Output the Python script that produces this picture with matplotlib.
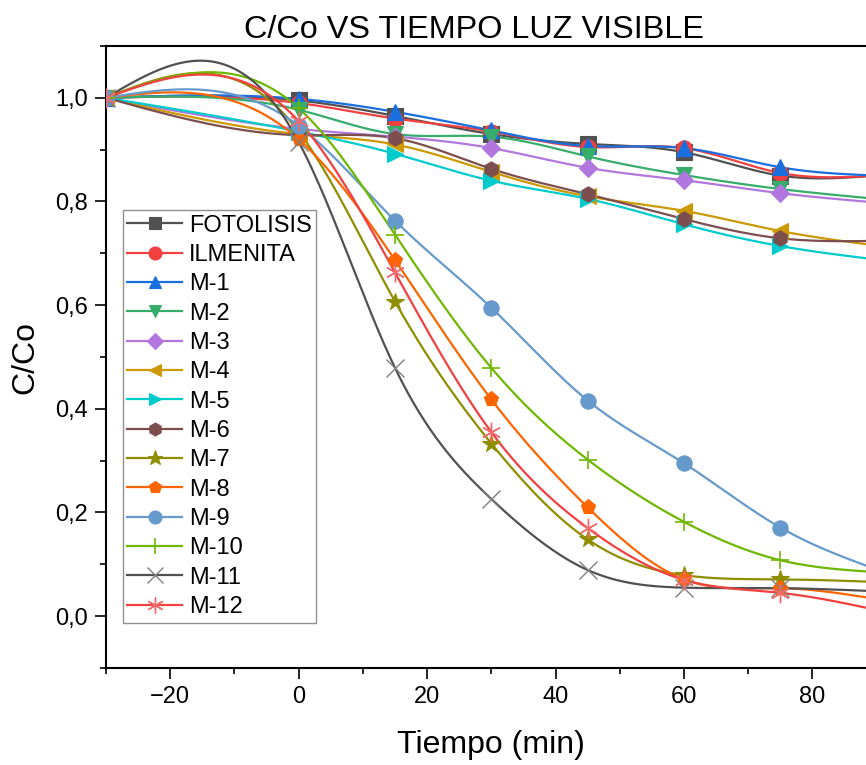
import numpy as np
import matplotlib
matplotlib.use("Agg")
import matplotlib.pyplot as plt
from matplotlib.ticker import MultipleLocator, FuncFormatter

plt.rcParams['font.family'] = ['Liberation Sans', 'DejaVu Sans']

# time points (min)
tiempo = [-30, 0, 15, 30, 45, 60, 75, 90]

# C/Co values
fotolisis = [1.0, 0.995, 0.965, 0.930, 0.911, 0.895, 0.850, 0.850]
ilmenita  = [1.0, 0.990, 0.960, 0.935, 0.905, 0.903, 0.855, 0.850]
m1  = [1.0, 0.998, 0.973, 0.937, 0.907, 0.903, 0.866, 0.850]
m2  = [1.0, 0.977, 0.930, 0.925, 0.887, 0.851, 0.824, 0.805]
m3  = [1.0, 0.940, 0.925, 0.903, 0.865, 0.841, 0.816, 0.798]
m4  = [1.0, 0.930, 0.910, 0.857, 0.810, 0.782, 0.743, 0.715]
m5  = [1.0, 0.935, 0.892, 0.840, 0.805, 0.756, 0.714, 0.688]
m6  = [1.0, 0.928, 0.922, 0.863, 0.814, 0.766, 0.729, 0.724]
m7  = [1.0, 0.935, 0.607, 0.333, 0.148, 0.079, 0.071, 0.066]
m8  = [1.0, 0.920, 0.687, 0.418, 0.210, 0.071, 0.054, 0.033]
m9  = [1.0, 0.946, 0.763, 0.595, 0.416, 0.295, 0.171, 0.090]
m10 = [1.0, 0.980, 0.736, 0.479, 0.302, 0.182, 0.108, 0.085]
m11 = [1.0, 0.915, 0.479, 0.226, 0.089, 0.055, 0.054, 0.048]
m12 = [1.0, 0.955, 0.663, 0.355, 0.170, 0.070, 0.045, 0.012]

series = [
    ("FOTOLISIS", fotolisis, '#515151', 's', {}),
    ("ILMENITA", ilmenita, '#F14040', 'o', {}),
    ("M-1", m1, '#1A6FDF', '^', {}),
    ("M-2", m2, '#37AD6B', 'v', {}),
    ("M-3", m3, '#B177DE', 'D', {'ms': 9}),
    ("M-4", m4, '#CC9900', '<', {}),
    ("M-5", m5, '#00CBCC', '>', {}),
    ("M-6", m6, '#7D4E4E', 'h', {}),
    ("M-7", m7, '#8E8E00', '*', {'ms': 13}),
    ("M-8", m8, '#FB6501', 'p', {}),
    ("M-9", m9, '#6699CC', 'o', {}),
    ("M-10", m10, '#6FB802', '+', {'mew': 1.2, 'ms': 13}),
    ("M-11", m11, '#515151', 'x', {'mew': 1.0, 'ms': 13, 'mec': '#808080'}),
    ("M-12", m12, '#F14040', (6, 2, 0), {'mew': 1.0, 'ms': 14, 'mec': '#F46A6A'}),
]


def natural_spline(x, y, n=400):
    # natural cubic spline, no scipy available
    x = np.asarray(x, float)
    y = np.asarray(y, float)
    k = len(x)
    h = np.diff(x)
    A = np.zeros((k, k))
    b = np.zeros(k)
    A[0, 0] = 1
    A[-1, -1] = 1
    for i in range(1, k - 1):
        A[i, i - 1] = h[i - 1]
        A[i, i] = 2 * (h[i - 1] + h[i])
        A[i, i + 1] = h[i]
        b[i] = 6 * ((y[i + 1] - y[i]) / h[i] - (y[i] - y[i - 1]) / h[i - 1])
    M = np.linalg.solve(A, b)
    xs = np.linspace(x[0], x[-1], n)
    idx = np.clip(np.searchsorted(x, xs) - 1, 0, k - 2)
    x0, x1 = x[idx], x[idx + 1]
    hh = x1 - x0
    a = (x1 - xs) / hh
    c = (xs - x0) / hh
    ys = (a * y[idx] + c * y[idx + 1]
          + ((a ** 3 - a) * M[idx] + (c ** 3 - c) * M[idx + 1]) * hh ** 2 / 6)
    return xs, ys


fig = plt.figure(figsize=(8.66, 7.65), dpi=100)
ax = fig.add_axes([0.1224, 0.1268, 0.927, 0.8131])

for name, vals, col, mk, kw in series:
    xs, ys = natural_spline(tiempo, vals)
    ax.plot(xs, ys, color=col, lw=1.6, zorder=2)
    ms = kw.get('ms', 11)
    mew = kw.get('mew', 0.8)
    mec = kw.get('mec', col)
    ax.plot(tiempo, vals, ls='none', marker=mk, ms=ms, mfc=col, mec=mec,
            mew=mew, zorder=3)
    ax.plot([], [], color=col, lw=1.6, marker=mk, ms=ms * 0.85, mfc=col,
            mec=mec, mew=mew, label=name)

ax.set_xlim(-30, 95)
ax.set_ylim(-0.1, 1.1)
ax.xaxis.set_major_locator(MultipleLocator(20))
ax.xaxis.set_minor_locator(MultipleLocator(10))
ax.yaxis.set_major_locator(MultipleLocator(0.2))
ax.yaxis.set_minor_locator(MultipleLocator(0.1))
ax.yaxis.set_major_formatter(FuncFormatter(lambda v, p: f"{v:.1f}".replace('.', ',')))
ax.tick_params(which='major', direction='out', length=8, width=1.2, labelsize=17, pad=5)
ax.tick_params(which='minor', direction='out', length=4, width=1.2)
for s in ax.spines.values():
    s.set_linewidth(1.5)

# axis labels and title placed in figure pixels (the original is cropped on the right)
fig.text(491 / 866, 1 - 745 / 765, "Tiempo (min)", fontsize=23,
         ha='center', va='center')
fig.text(25 / 866, 1 - 357 / 765, "C/Co", fontsize=23, rotation=90,
         ha='center', va='center')
fig.text(474 / 866, 0.961, "C/Co VS TIEMPO LUZ VISIBLE", fontsize=23.3,
         ha='center', va='center')

leg = ax.legend(loc='upper left', bbox_to_anchor=(0.0208, 0.7363),
                borderaxespad=0, fontsize=17, handlelength=2.3,
                handletextpad=0.3, labelspacing=0.31, borderpad=0.2,
                fancybox=False, framealpha=1, edgecolor='#909090')
leg.get_frame().set_linewidth(1.0)

fig.savefig("out.png", dpi=100)
